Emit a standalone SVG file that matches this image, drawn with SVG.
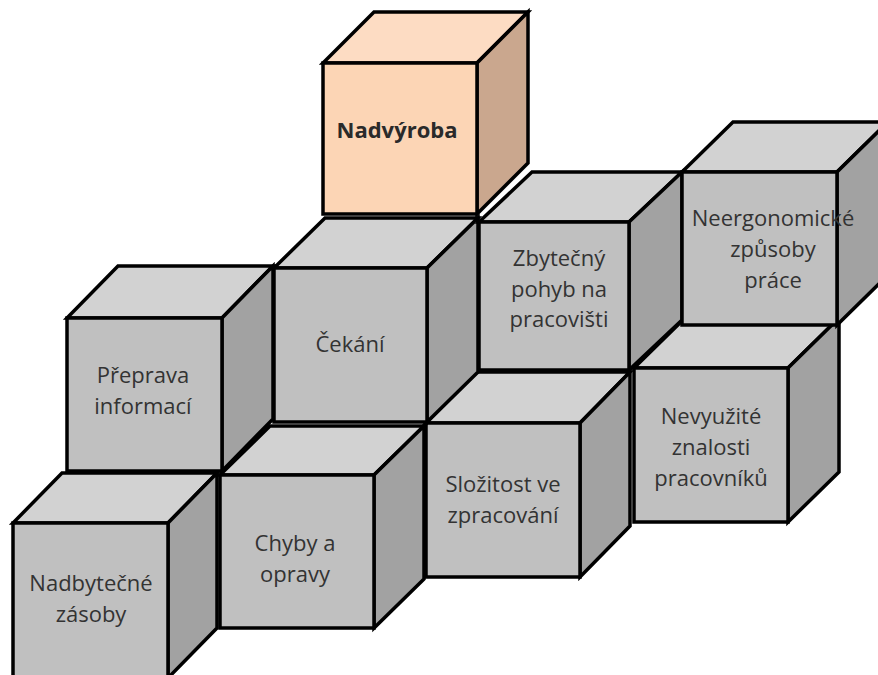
<svg xmlns="http://www.w3.org/2000/svg" width="878" height="675" viewBox="0 0 878 675">
  <style>
    .edge { stroke: #000; stroke-width: 3.5; stroke-linejoin: miter; }
    .g .front { fill: #c0c0c0; }
    .g .top { fill: #d2d2d2; }
    .g .side { fill: #a2a2a2; }
    .o .front { fill: #fcd5b5; }
    .o .top { fill: #fddcc3; }
    .o .side { fill: #caa78e; }
    text { font-family: "Open Sans", "Noto Sans", "DejaVu Sans", sans-serif; font-size: 22px; fill: #333; text-anchor: middle; }
    text.b { font-weight: bold; fill: #2a2a2a; }
  </style>
  <rect width="878" height="675" fill="#fff"/>

  <!-- front row -->
  <g id="nevyuzite" class="g">
    <polygon class="top edge" points="634,368 788,368 839,318 685,318"/>
    <polygon class="side edge" points="788,368 839,318 839,472 788,522"/>
    <rect class="front edge" x="634" y="368" width="154" height="154"/>
    <text x="711" y="424">Nevyužité</text>
    <text x="711" y="455">znalosti</text>
    <text x="711" y="486">pracovníků</text>
  </g>
  <g id="slozitost" class="g">
    <polygon class="top edge" points="426,423 580,423 630,372 476,372"/>
    <polygon class="side edge" points="580,423 630,372 630,526 580,577"/>
    <rect class="front edge" x="426" y="423" width="154" height="154"/>
    <text x="503" y="492">Složitost ve</text>
    <text x="503" y="523">zpracování</text>
  </g>
  <g id="chyby" class="g">
    <polygon class="top edge" points="220,475 374,475 424,426 270,426"/>
    <polygon class="side edge" points="374,475 424,426 424,579 374,628"/>
    <rect class="front edge" x="220" y="475" width="154" height="153"/>
    <text x="295" y="551">Chyby a</text>
    <text x="295" y="582">opravy</text>
  </g>
  <g id="nadbytecne" class="g">
    <polygon class="top edge" points="13,523 168,523 217,473 62,473"/>
    <polygon class="side edge" points="168,523 217,473 217,628 168,678"/>
    <rect class="front edge" x="13" y="523" width="155" height="155"/>
    <text x="91" y="591">Nadbytečné</text>
    <text x="91" y="622">zásoby</text>
  </g>

  <!-- back row -->
  <g id="preprava" class="g">
    <polygon class="top edge" points="67,318 222,318 273,266 118,266"/>
    <polygon class="side edge" points="222,318 273,266 273,419 222,471"/>
    <rect class="front edge" x="67" y="318" width="155" height="153"/>
    <text x="143" y="383">Přeprava</text>
    <text x="143" y="414">informací</text>
  </g>
  <g id="cekani" class="g">
    <polygon class="top edge" points="274,268 427,268 478,218 325,218"/>
    <polygon class="side edge" points="427,268 478,218 478,372 427,422"/>
    <rect class="front edge" x="274" y="268" width="153" height="154"/>
    <text x="350" y="352">Čekání</text>
  </g>
  <g id="zbytecny" class="g">
    <polygon class="top edge" points="479,222 629,222 682,172 532,172"/>
    <polygon class="side edge" points="629,222 682,172 682,320 629,370"/>
    <rect class="front edge" x="479" y="222" width="150" height="148"/>
    <text x="559" y="266">Zbytečný</text>
    <text x="559" y="297">pohyb na</text>
    <text x="559" y="327">pracovišti</text>
  </g>
  <g id="neergonomicke" class="g">
    <polygon class="top edge" points="682,172 837,172 888,122 733,122"/>
    <polygon class="side edge" points="837,172 888,122 888,275 837,325"/>
    <rect class="front edge" x="682" y="172" width="155" height="153"/>
    <text x="773" y="226">Neergonomické</text>
    <text x="773" y="257">způsoby</text>
    <text x="773" y="288">práce</text>
  </g>

  <!-- top cube -->
  <g id="nadvyroba" class="o">
    <polygon class="top edge" points="323,63 477,63 528,12 374,12"/>
    <polygon class="side edge" points="477,63 528,12 528,163 477,214"/>
    <rect class="front edge" x="323" y="63" width="154" height="151"/>
    <text class="b" x="397" y="138">Nadvýroba</text>
  </g>
</svg>
